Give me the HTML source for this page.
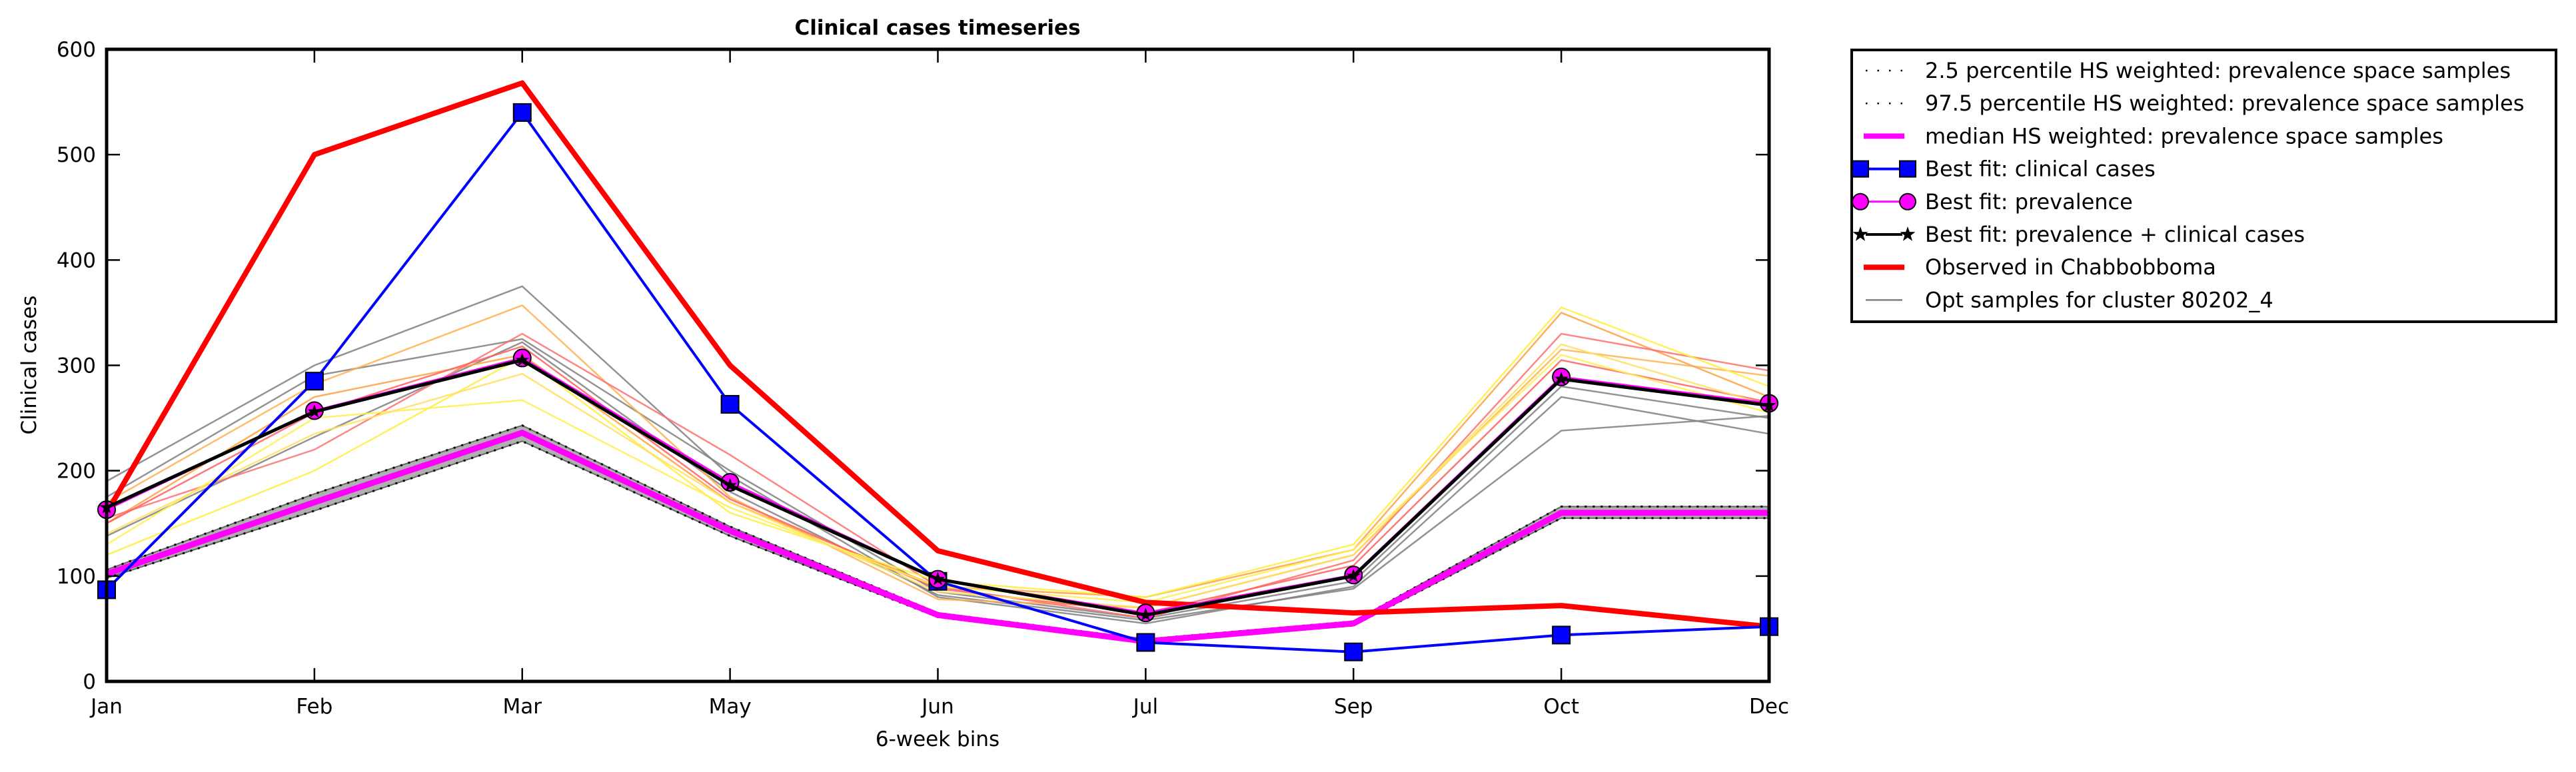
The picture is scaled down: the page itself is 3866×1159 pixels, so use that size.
<!DOCTYPE html>
<html><head><meta charset="utf-8"><style>
html,body{margin:0;padding:0;background:#fff;}
svg{display:block;font-family:"DejaVu Sans","Liberation Sans",sans-serif;}
</style></head><body>
<svg id="chart" width="3866" height="1159" viewBox="0 0 3866 1159" xmlns="http://www.w3.org/2000/svg">
<rect x="0" y="0" width="3866" height="1159" fill="#fff"/>
<g id="plot"></g>
<text x="1407" y="52" text-anchor="middle" font-size="31" font-weight="bold">Clinical cases timeseries</text>
<text x="1407" y="1120" text-anchor="middle" font-size="31">6-week bins</text>
<text transform="translate(54,548) rotate(-90)" text-anchor="middle" font-size="31">Clinical cases</text>
<g id="legend"></g>
</svg>
<script>
const categories = ["Jan","Feb","Mar","May","Jun","Jul","Sep","Oct","Dec"];
const yTicks = [0,100,200,300,400,500,600];
const observed = [160,500,568,300,124,75,65,72,52];
const bestClinical = [87,285,540,263,95,37,28,44,52];
const bestPrevalence = [163,257,307,189,97,65,101,289,264];
const bestBoth = [165,256,305,186,97,63,100,287,262];
const median = [102,170,236,143,63,38,55,160,160];
const p025 = [98,162,228,138,61,37,53,155,155];
const p975 = [106,178,243,147,65,40,57,166,166];
const samplesGray1 = [190,300,375,195,80,55,90,270,235];
const samplesGray2 = [175,290,325,200,85,60,95,280,250];
const samplesGray3 = [138,232,322,180,82,58,88,238,252];
const samplesOrange1 = [170,282,357,175,78,70,120,315,290];
const samplesOrange2 = [150,270,310,170,90,80,125,350,270];
const samplesRed1 = [155,220,330,215,90,60,115,330,295];
const samplesRed2 = [150,255,318,173,88,65,110,305,265];
const samplesYellow1 = [120,200,308,160,95,80,130,355,280];
const samplesYellow2 = [130,250,267,165,90,75,125,310,255];
const samplesYellow3 = [140,235,292,170,85,70,120,320,262];

const NS="http://www.w3.org/2000/svg";
const L=160,R=2655,T=74,B=1023,YMAX=600;
const xs=i=>L+i*(R-L)/(categories.length-1);
const ys=v=>B-v*(B-T)/YMAX;
const plot=document.getElementById('plot');
function mk(tag,attrs,parent){const e=document.createElementNS(NS,tag);for(const k in attrs)e.setAttribute(k,attrs[k]);(parent||plot).appendChild(e);return e;}
function pts(arr){return arr.map((v,i)=>xs(i)+","+ys(v)).join(" ");}

const samples=[[samplesGray1,"#808080"],[samplesGray2,"#808080"],[samplesGray3,"#808080"],[samplesOrange1,"#ffb050"],[samplesOrange2,"#ffa040"],[samplesRed1,"#ff7070"],[samplesRed2,"#ff6060"],[samplesYellow1,"#ffee40"],[samplesYellow2,"#fff050"],[samplesYellow3,"#ffe060"]];
samples.forEach((s,k)=>{
  const e=mk('polyline',{points:pts(s[0]),fill:"none",stroke:s[1],"stroke-width":2.5,"stroke-opacity":0.85});
  
  
});
const band=mk('polygon',{points:pts(p975)+" "+p025.map((v,i)=>xs(i)+","+ys(v)).reverse().join(" "),fill:"#b0b0b0",stroke:"#666","stroke-width":2});


[p025,p975].forEach(a=>{
  const e=mk('polyline',{points:pts(a),fill:"none",stroke:"#000","stroke-width":3,"stroke-dasharray":"3,9"});
  
  
});
const med=mk('polyline',{points:pts(median),fill:"none",stroke:"#ff00ff","stroke-width":9});


const obs=mk('polyline',{points:pts(observed),fill:"none",stroke:"#ff0000","stroke-width":8,"stroke-linejoin":"round"});


const bl=mk('polyline',{points:pts(bestClinical),fill:"none",stroke:"#0000ff","stroke-width":4});


bestClinical.forEach((v,i)=>{
  const e=mk('rect',{x:xs(i)-13,y:ys(v)-13,width:26,height:26,fill:"#0000ff",stroke:"#000","stroke-width":2});
  
  
});
const pl=mk('polyline',{points:pts(bestPrevalence),fill:"none",stroke:"#ff00ff","stroke-width":3});


bestPrevalence.forEach((v,i)=>{
  const e=mk('circle',{cx:xs(i),cy:ys(v),r:13,fill:"#ff00ff",stroke:"#000","stroke-width":2});
  
  
});
const bb=mk('polyline',{points:pts(bestBoth),fill:"none",stroke:"#000","stroke-width":5});


function star(cx,cy,r){let p=[];for(let k=0;k<10;k++){const a=-Math.PI/2+k*Math.PI/5;const rr=k%2?r*0.4:r;p.push((cx+rr*Math.cos(a))+","+(cy+rr*Math.sin(a)));}return p.join(" ");}
bestBoth.forEach((v,i)=>{
  const e=mk('polygon',{points:star(xs(i),ys(v),11),fill:"#000"});
  
  
});
const fr=mk('rect',{x:L,y:T,width:R-L,height:B-T,fill:"none",stroke:"#000","stroke-width":5});


categories.forEach((c,i)=>{
  const x=xs(i);
  mk('line',{x1:x,y1:B,x2:x,y2:B-20,stroke:"#000","stroke-width":2.5});
  mk('line',{x1:x,y1:T,x2:x,y2:T+20,stroke:"#000","stroke-width":2.5});
  const t=mk('text',{x:x,y:B+48,"text-anchor":"middle","font-size":31});
  t.textContent=c;
  
  
});
yTicks.forEach(v=>{
  const y=ys(v);
  mk('line',{x1:L,y1:y,x2:L+20,y2:y,stroke:"#000","stroke-width":2.5});
  mk('line',{x1:R,y1:y,x2:R-20,y2:y,stroke:"#000","stroke-width":2.5});
  const t=mk('text',{x:L-16,y:y+11,"text-anchor":"end","font-size":31});
  t.textContent=v;
  
  
});
const lg=document.getElementById('legend');
mk('rect',{x:2779,y:75,width:1057,height:408,fill:"#fff",stroke:"#000","stroke-width":4},lg);
const entries=[
 ["2.5 percentile HS weighted: prevalence space samples","dot"],
 ["97.5 percentile HS weighted: prevalence space samples","dot"],
 ["median HS weighted: prevalence space samples","mag"],
 ["Best fit: clinical cases","sq"],
 ["Best fit: prevalence","circ"],
 ["Best fit: prevalence + clinical cases","star"],
 ["Observed in Chabbobboma","red"],
 ["Opt samples for cluster 80202_4","gray"]];
entries.forEach((en,k)=>{
  const y=106+k*49.2;
  const g=mk('g',{},lg);
  
  
  const x1=2800,x2=2855;
  if(en[1]=="dot")mk('line',{x1:x1,y1:y,x2:x2,y2:y,stroke:"#000","stroke-width":2.5,"stroke-dasharray":"2.5,15"},g);
  if(en[1]=="mag")mk('line',{x1:x1-3,y1:y,x2:x2+3,y2:y,stroke:"#ff00ff","stroke-width":8},g);
  if(en[1]=="red")mk('line',{x1:x1-3,y1:y,x2:x2+3,y2:y,stroke:"#ff0000","stroke-width":8},g);
  if(en[1]=="gray")mk('line',{x1:x1,y1:y,x2:x2,y2:y,stroke:"#808080","stroke-width":2.5},g);
  if(en[1]=="sq"){mk('line',{x1:x1,y1:y,x2:x2,y2:y,stroke:"#0000ff","stroke-width":4},g);
    [x1-8,x2+8].forEach(x=>mk('rect',{x:x-12,y:y-12,width:24,height:24,fill:"#0000ff",stroke:"#000","stroke-width":2},g));}
  if(en[1]=="circ"){mk('line',{x1:x1,y1:y,x2:x2,y2:y,stroke:"#ff00ff","stroke-width":3},g);
    [x1-8,x2+8].forEach(x=>mk('ellipse',{cx:x,cy:y,rx:12,ry:12,fill:"#ff00ff",stroke:"#000","stroke-width":2},g));}
  if(en[1]=="star"){mk('line',{x1:x1,y1:y,x2:x2,y2:y,stroke:"#000","stroke-width":4},g);
    [x1-8,x2+8].forEach(x=>mk('polygon',{points:star(x,y,12),fill:"#000"},g));}
  const t=mk('text',{x:2889,y:y+11,"font-size":32},g);
  t.textContent=en[0];
});
</script>
</body></html>
